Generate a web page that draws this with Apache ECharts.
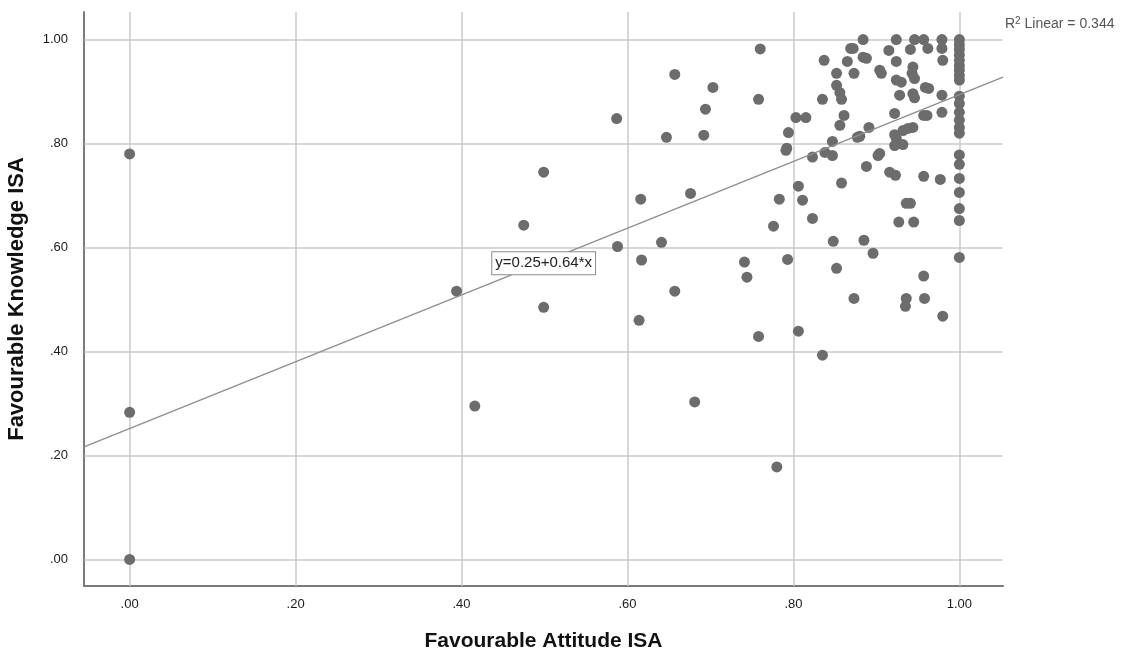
<!DOCTYPE html>
<html>
<head>
<meta charset="utf-8">
<script src="https://cdn.jsdelivr.net/npm/echarts@6/dist/echarts.min.js"></script>
<style>
  html, body { margin: 0; background: #fff; }
  #chart { width: 1121px; height: 654px; }
</style>
</head>
<body>
<div id="chart"></div>
<script>
// point values (x = attitude, y = knowledge)
const attitude = [
  0, 0, 0,
  0.394, 0.416, 0.475, 0.499, 0.499, 0.587, 0.588, 0.616, 0.614, 0.617,
  0.657, 0.641, 0.647, 0.657, 0.676, 0.681, 0.694, 0.692, 0.703, 0.741,
  0.744, 0.760, 0.758, 0.758, 0.776, 0.780, 0.783, 0.791, 0.792, 0.793,
  0.794, 0.803, 0.806, 0.806, 0.811, 0.815, 0.823, 0.823, 0.835, 0.835,
  0.837, 0.838, 0.847, 0.847, 0.848, 0.852, 0.852, 0.852, 0.856, 0.858,
  0.856, 0.861, 0.858, 0.865, 0.869, 0.872, 0.873, 0.873, 0.877, 0.880,
  0.884, 0.888, 0.884, 0.885, 0.888, 0.891, 0.896, 0.902, 0.904, 0.904,
  0.906, 0.915, 0.916, 0.923, 0.924, 0.922, 0.922, 0.922, 0.924, 0.924,
  0.930, 0.927, 0.924, 0.928, 0.932, 0.932, 0.936, 0.935, 0.936, 0.938,
  0.941, 0.944, 0.943, 0.944, 0.946, 0.944, 0.941, 0.945, 0.946, 0.946,
  0.957, 0.957, 0.961, 0.957, 0.957, 0.958, 0.959, 0.963, 0.962, 0.977,
  0.980, 0.979, 0.979, 0.980, 0.979, 0.979,
  1, 1, 1, 1, 1, 1, 1, 1, 1, 1, 1, 1, 1, 1, 1, 1, 1, 1, 1, 1, 1, 1
];
const knowledge = [
  0.78, 0.283, 0,
  0.516, 0.295, 0.643, 0.745, 0.485, 0.848, 0.602, 0.693, 0.460, 0.576,
  0.933, 0.610, 0.812, 0.516, 0.704, 0.303, 0.866, 0.816, 0.908, 0.572,
  0.543, 0.982, 0.885, 0.429, 0.641, 0.178, 0.693, 0.787, 0.791, 0.577,
  0.821, 0.850, 0.718, 0.439, 0.691, 0.850, 0.656, 0.774, 0.393, 0.885,
  0.960, 0.783, 0.804, 0.777, 0.612, 0.560, 0.935, 0.912, 0.898, 0.885,
  0.835, 0.854, 0.724, 0.958, 0.983, 0.983, 0.935, 0.502, 0.812, 0.814,
  0.966, 0.964, 1.0, 0.614, 0.756, 0.831, 0.589, 0.777, 0.781, 0.941,
  0.935, 0.979, 0.745, 0.739, 0.810, 0.796, 0.817, 0.858, 1.0, 0.922,
  0.918, 0.649, 0.958, 0.893, 0.825, 0.798, 0.502, 0.487, 0.685, 0.829,
  0.685, 0.947, 0.935, 0.896, 0.888, 0.831, 0.981, 0.649, 0.925, 1.0,
  1.0, 0.854, 0.854, 0.737, 0.545, 0.502, 0.908, 0.906, 0.983, 0.731,
  0.468, 1.0, 0.983, 0.960, 0.893, 0.860,
  1.0, 0.99, 0.981, 0.97, 0.96, 0.95, 0.941, 0.931, 0.922, 0.891, 0.877,
  0.86, 0.845, 0.831, 0.82, 0.778, 0.76, 0.733, 0.706, 0.675, 0.652, 0.581
];

const xTicks = [0, 0.2, 0.4, 0.6, 0.8, 1.0];
const yTicks = [0, 0.2, 0.4, 0.6, 0.8, 1.0];
const xRange = [-0.055, 1.0526];
const yRange = [-0.051, 1.053];

const fitIntercept = 0.252;
const fitSlope = 0.642;
const fitLabel = "y=0.25+0.64*x";
const fitLabelAt = [0.499, 0.57];
const rSquared = "0.344";

const FONT = "Liberation Sans, Arial, sans-serif";
const fmt = (v) => v.toFixed(2).replace(/^0/, "");

const points = attitude.map((x, i) => [x, knowledge[i]]);
const fitLine = xRange.map((x) => [x, fitIntercept + fitSlope * x]);

const chart = echarts.init(document.getElementById("chart"));
chart.setOption({
  animation: false,
  title: {
    text: "R{s|2} Linear = " + rSquared,
    left: 1000,
    top: 11,
    textStyle: {
      fontFamily: FONT,
      fontSize: 14,
      fontWeight: "normal",
      color: "#555",
      rich: { s: { fontFamily: FONT, fontSize: 10, color: "#555", verticalAlign: "top", padding: [0, 0, 7, 0] } },
    },
  },
  grid: { left: 84, right: 118, top: 12, bottom: 68, outerBoundsMode: "none" },
  xAxis: {
    type: "value",
    min: xRange[0],
    max: xRange[1],
    name: "Favourable Attitude ISA",
    nameLocation: "middle",
    nameGap: 45,
    nameTextStyle: { fontFamily: FONT, fontSize: 21, fontWeight: "bold", color: "#111" },
    axisLine: { show: true, onZero: false, lineStyle: { color: "#7a7a7a", width: 2 } },
    axisTick: { show: false },
    splitLine: { show: false },
    axisLabel: {
      customValues: xTicks,
      formatter: fmt,
      margin: 12,
      fontFamily: FONT,
      fontSize: 13,
      color: "#1a1a1a",
    },
  },
  yAxis: {
    type: "value",
    min: yRange[0],
    max: yRange[1],
    name: "Favourable Knowledge ISA",
    nameLocation: "middle",
    nameGap: 56,
    nameTextStyle: { fontFamily: FONT, fontSize: 22, fontWeight: "bold", color: "#111" },
    axisLine: { show: true, onZero: false, lineStyle: { color: "#7a7a7a", width: 2 } },
    axisTick: { show: false },
    splitLine: { show: false },
    axisLabel: {
      customValues: yTicks,
      formatter: fmt,
      margin: 16,
      fontFamily: FONT,
      fontSize: 13,
      color: "#1a1a1a",
    },
  },
  series: [
    {
      // grid lines at the tick values
      type: "scatter",
      data: [],
      z: 1,
      silent: true,
      markLine: {
        z: 1,
        silent: true,
        symbol: ["none", "none"],
        label: { show: false },
        lineStyle: { color: "#cacaca", width: 1.5, type: "solid" },
        data: [
          ...xTicks.map((v) => ({ xAxis: v })),
          ...yTicks.map((v) => ({ yAxis: v })),
        ],
      },
    },
    {
      type: "scatter",
      data: points,
      z: 3,
      symbolSize: 11,
      itemStyle: { color: "#6c6c6c", opacity: 1 },
    },
    {
      type: "line",
      data: fitLine,
      z: 4,
      showSymbol: false,
      silent: true,
      lineStyle: { color: "#8e8e8e", width: 1.3 },
      markPoint: {
        silent: true,
        symbol: "rect",
        symbolSize: 0,
        data: [{ coord: fitLabelAt }],
        label: {
          show: true,
          position: "inside",
          formatter: fitLabel,
          fontFamily: FONT,
          fontSize: 15,
          color: "#222",
          backgroundColor: "#fff",
          borderColor: "#8a8a8a",
          borderWidth: 1,
          padding: [4, 3, 3, 3],
        },
      },
    },
  ],
});
</script>
</body>
</html>
